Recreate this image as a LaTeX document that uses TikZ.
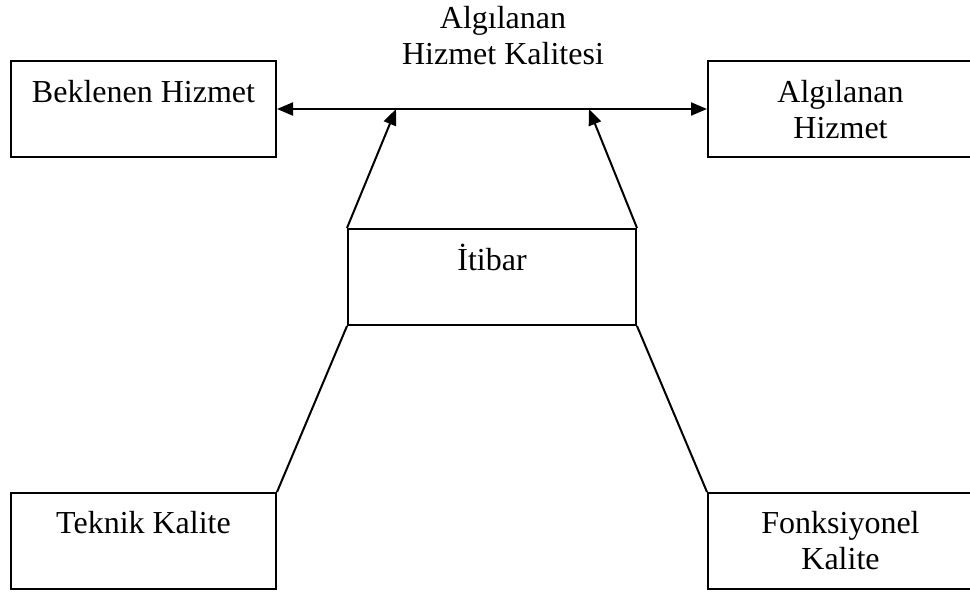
\documentclass[tikz,border=0pt]{standalone}
\usepackage{fontspec}
\setmainfont{Liberation Serif}
\usetikzlibrary{arrows.meta}
\begin{document}
\begin{tikzpicture}[x=1pt,y=-1pt,
  box/.style={draw,line width=2pt,rectangle,minimum height=96pt,inner sep=0pt},
  txt/.style={anchor=base,inner sep=0pt,font=\fontsize{32}{36.8}\selectfont},
  conn/.style={line width=2pt},
  tip/.tip={Triangle[length=16pt,width=13pt]},
  arr/.style={conn,-tip}]
\useasboundingbox (0,0) rectangle (970,592);
\clip (0,0) rectangle (970,592);
% boxes
\node[box,minimum width=265pt] (bh) at (143.5,109) {};
\node[box,minimum width=265pt] (ah) at (840.5,109) {};
\node[box,minimum width=288pt] (it) at (492,277) {};
\node[box,minimum width=265pt] (tk) at (143.5,541) {};
\node[box,minimum width=265pt] (fk) at (840.5,541) {};
% texts
\node[txt] (t1) at (143.5,102) {Beklenen Hizmet};
\node[txt] (t2a) at (840.5,102) {Algılanan};
\node[txt] (t2b) at (840.5,138.5) {Hizmet};
\node[txt] (t3) at (492,270) {İtibar};
\node[txt] (t4) at (143.5,533) {Teknik Kalite};
\node[txt] (t5a) at (840.5,533) {Fonksiyonel};
\node[txt] (t5b) at (840.5,569.5) {Kalite};
\node[txt] (tt1) at (503,28) {Algılanan};
\node[txt] (tt2) at (503,64.5) {Hizmet Kalitesi};
% connectors
\coordinate (p1) at (396,109);
\coordinate (p2) at (589,109);
\draw[conn,tip-tip] (bh.east) -- (ah.west);
\draw[arr] (it.north west) -- (p1);
\draw[arr] (it.north east) -- (p2);
\draw[conn] (it.south west) -- (tk.north east);
\draw[conn] (it.south east) -- (fk.north west);
\end{tikzpicture}
\end{document}
